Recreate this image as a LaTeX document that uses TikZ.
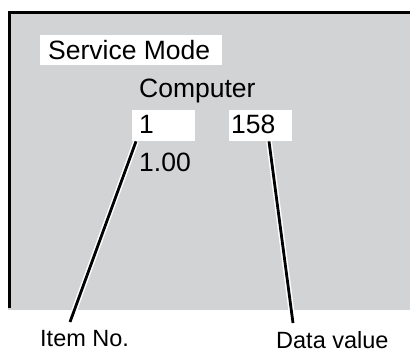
\documentclass[tikz,border=0pt]{standalone}
\usepackage{fontspec}
\setmainfont{Liberation Sans}
\definecolor{panelgray}{RGB}{209,211,212}
\newcommand{\screentext}[3]{\node[anchor=base west,inner sep=0pt,font=\fontsize{26.5}{30}\selectfont] (#1) at #2 {#3};}

\begin{document}
\begin{tikzpicture}[x=1pt,y=-1pt,
  whitebox/.style={fill=white,draw=none,inner sep=0pt,anchor=north west},
  halo/.style={line width=2.8pt,preaction={draw=white,line width=5.8pt}},
  callout/.style={anchor=base west,inner sep=0pt,font=\fontsize{23.5}{28}\selectfont}]
\useasboundingbox (0,0) rectangle (410,350);
\fill[panelgray] (8,11) rectangle (410,310);
\draw[line width=3pt] (9,308)--(9,12.5)--(410,12.5);
\node[whitebox,minimum width=182,minimum height=30] (svcbox) at (40,35) {};
\node[whitebox,minimum width=63,minimum height=31] (onebox) at (132,110) {};
\node[whitebox,minimum width=63,minimum height=31] (valbox) at (229,110) {};
\screentext{svc}{(48,60)}{Service Mode}
\screentext{comp}{(139,98)}{Computer}
\screentext{one}{(139,134)}{1}
\screentext{val}{(231,134)}{158}
\screentext{ver}{(139,172)}{1.00}
\node[callout] (item) at (40,346) {Item No.};
\node[callout] (data) at (276,348) {Data value};
\coordinate (itemtip) at (70,322);
\coordinate (datatip) at (293,323);
\draw[halo] ([xshift=4pt]onebox.south west)--(itemtip);
\draw[halo] ([xshift=40pt]valbox.south west)--(datatip);
\end{tikzpicture}
\end{document}
